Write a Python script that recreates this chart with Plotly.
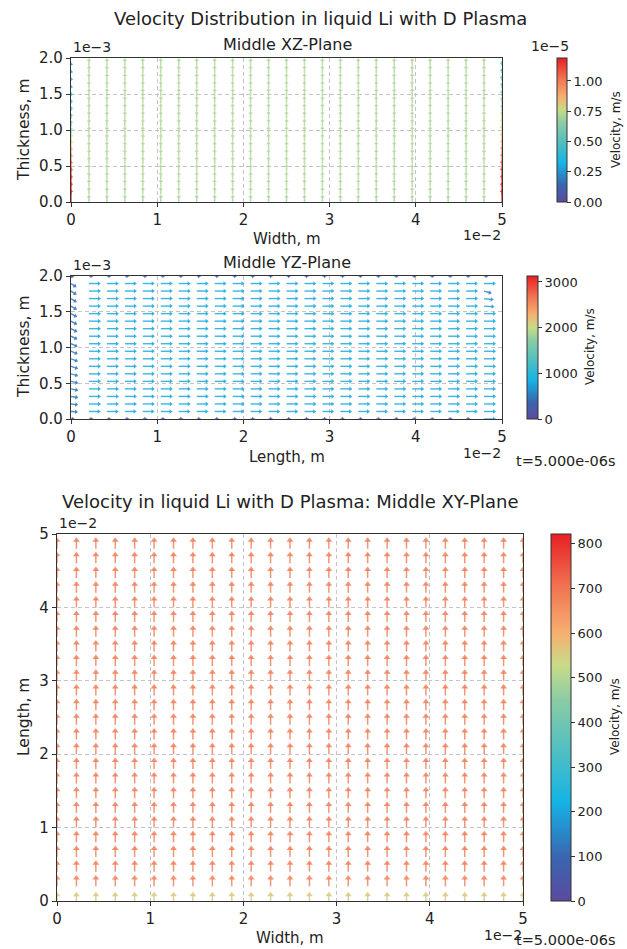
import numpy as np
import plotly.graph_objects as go
from plotly.colors import sample_colorscale

# ---------------- data ----------------
# grid columns (in 1e-2 m) and rows
col_pos_cm = [0.0, 0.2083, 0.4167, 0.625, 0.8333, 1.0417, 1.25, 1.4583, 1.6667, 1.875,
              2.0833, 2.2917, 2.5, 2.7083, 2.9167, 3.125, 3.3333, 3.5417, 3.75, 3.9583,
              4.1667, 4.375, 4.5833, 4.7917, 5.0]
z_rows_mm = [0.0, 0.1053, 0.2105, 0.3158, 0.4211, 0.5263, 0.6316, 0.7368, 0.8421, 0.9474,
             1.0526, 1.1579, 1.2632, 1.3684, 1.4737, 1.5789, 1.6842, 1.7895, 1.8947, 2.0]
xy_rows_cm = [0.0, 0.2, 0.4, 0.6, 0.8, 1.0, 1.2, 1.4, 1.6, 1.8, 2.0, 2.2, 2.4, 2.6, 2.8,
              3.0, 3.2, 3.4, 3.6, 3.8, 4.0, 4.2, 4.4, 4.6, 4.8]

# Middle XZ-plane: vertical velocity (1e-5 m/s), per row bottom->top
xz_w_mid = [0.70, 0.71, 0.72, 0.72, 0.72, 0.72, 0.72, 0.72, 0.72, 0.72,
            0.72, 0.72, 0.72, 0.72, 0.72, 0.72, 0.72, 0.72, 0.71, 0.70]
xz_w_left = [1.19, 1.17, 1.15, 1.12, 1.05, 0.98, 0.90, 0.82, 0.74, 0.66,
             0.58, 0.52, 0.46, 0.42, 0.38, 0.35, 0.32, 0.30, 0.28, 0.26]
xz_w_right = [1.19, 1.18, 1.16, 1.13, 1.08, 1.02, 0.96, 0.90, 0.85, 0.80,
              0.76, 0.72, 0.68, 0.64, 0.60, 0.56, 0.52, 0.48, 0.44, 0.40]
xz_cmax = 1.19e-5

# Middle YZ-plane: velocity components (m/s), per row bottom->top
yz_v_mid = [300, 780, 800, 800, 800, 800, 800, 800, 800, 800,
            800, 800, 800, 800, 800, 800, 800, 800, 790, 300]
yz_v_left = [250, 470, 480, 490, 490, 490, 480, 480, 470, 460,
             450, 440, 430, 420, 410, 400, 390, 380, 370, 180]
yz_w_left = [0, -40, -60, -80, -100, -120, -140, -160, -180, -190,
             -200, -210, -220, -225, -230, -235, -240, -240, -240, -60]
yz_v_c23 = [800, 800, 800, 800, 800, 800, 800, 800, 800, 800,
            800, 800, 800, 800, 800, 700, 650, 520, 790, 300]
yz_w_c23 = [0, 0, 0, 0, 0, 0, 0, 0, 0, 0,
            0, 0, 0, 0, 0, -40, -80, -150, 0, 0]
yz_cmax = 3130

# Middle XY-plane: velocity along length (m/s), per row bottom->top
xy_v_rows = [560, 680, 690, 690, 690, 690, 690, 690, 690, 690, 690, 690, 690,
             690, 690, 690, 690, 690, 690, 690, 690, 690, 690, 690, 690]
xy_cmax = 822

CS = [[0.0, '#5b4b9e'], [0.12, '#3a66b0'], [0.27, '#14b4e6'], [0.40, '#4cbec4'],
      [0.55, '#8ccca4'], [0.64, '#c6dc88'], [0.73, '#f6b070'], [0.86, '#f07250'],
      [1.0, '#e81e24']]

W, H = 627, 949
FONT = "DejaVu Sans"


def px(x):
    return x / W


def py(y):
    return 1 - y / H


fig = go.Figure()


def add_quiver(tx, ty, u, v, k_px, ppx, ppy, cmax, xa, ya, head, lw, opacity, cbar):
    tx = np.asarray(tx, float); ty = np.asarray(ty, float)
    u = np.asarray(u, float); v = np.asarray(v, float)
    mag = np.hypot(u, v)
    keep = mag > 0
    tx, ty, u, v, mag = tx[keep], ty[keep], u[keep], v[keep], mag[keep]
    L = k_px * mag
    ang = np.arctan2(v, u)
    dx, dy = np.cos(ang), np.sin(ang)
    hl = np.minimum(head * 0.5, L * 0.5)
    hx = tx + (L - hl) * dx * ppx
    hy = ty + (L - hl) * dy * ppy
    q = np.round(np.clip(mag / cmax, 0, 1) * 60) / 60
    cols = sample_colorscale(CS, list(q))
    groups = {}
    for i, c in enumerate(cols):
        g = groups.setdefault(c, ([], []))
        g[0].extend([tx[i], hx[i], None])
        g[1].extend([ty[i], hy[i], None])
    for c, (gx, gy) in groups.items():
        fig.add_trace(go.Scatter(x=gx, y=gy, mode='lines', line=dict(color=c, width=lw),
                                 opacity=opacity, hoverinfo='skip', showlegend=False,
                                 xaxis=xa, yaxis=ya))
    fig.add_trace(go.Scatter(
        x=hx, y=hy, mode='markers', hoverinfo='skip', showlegend=False,
        xaxis=xa, yaxis=ya, opacity=opacity,
        marker=dict(symbol='triangle-up', size=head, angle=90 - np.degrees(ang),
                    color=mag, colorscale=CS, cmin=0, cmax=cmax, showscale=True,
                    colorbar=cbar, line=dict(width=0))))


cols_m = np.array(col_pos_cm) * 1e-2
zr_m = np.array(z_rows_mm) * 1e-3
xyr_m = np.array(xy_rows_cm) * 1e-2

cb_common = dict(outlinewidth=1, outlinecolor='#333', ticks='outside', ticklen=4,
                 tickcolor='#333', xpad=0, ypad=0, xanchor='left', yanchor='middle',
                 lenmode='pixels', tickfont=dict(family=FONT, size=13, color='#222'))

# ---- XZ panel ----
TX, TY, U, V = [], [], [], []
for ci, cx in enumerate(cols_m):
    prof = xz_w_left if ci == 0 else (xz_w_right if ci == len(cols_m) - 1 else xz_w_mid)
    for ri, zz in enumerate(zr_m):
        TX.append(cx); TY.append(zz); U.append(0.0); V.append(prof[ri] * 1e-5)
cb1 = dict(cb_common, len=144, thickness=10, x=px(557), y=py(130),
           tickvals=[0, 0.25e-5, 0.5e-5, 0.75e-5, 1.0e-5],
           ticktext=['0.00', '0.25', '0.50', '0.75', '1.00'])
add_quiver(TX, TY, U, V, 7.8 / 0.72e-5, 0.05 / 431, 0.002 / 144, xz_cmax, 'x', 'y',
           4, 1.6, 0.75, cb1)

# ---- YZ panel ----
TX, TY, U, V = [], [], [], []
for ci, cx in enumerate(cols_m):
    for ri, zz in enumerate(zr_m):
        if ci == 0:
            uu, vv = yz_v_left[ri], yz_w_left[ri]
        elif ci == 23:
            uu, vv = yz_v_c23[ri], yz_w_c23[ri]
        else:
            uu, vv = yz_v_mid[ri], 0.0
        TX.append(cx); TY.append(zz); U.append(uu); V.append(vv)
cb2 = dict(cb_common, len=143, thickness=11, x=px(527), y=py(347.5),
           tickvals=[0, 1000, 2000, 3000], ticktext=['0', '1000', '2000', '3000'])
add_quiver(TX, TY, U, V, 12.0 / 800, 0.05 / 431, 0.002 / 143, yz_cmax, 'x2', 'y2',
           4, 1.4, 0.85, cb2)

# ---- XY panel ----
TX, TY, U, V = [], [], [], []
for ci, cx in enumerate(cols_m):
    for ri, yy in enumerate(xyr_m):
        TX.append(cx); TY.append(yy); U.append(0.0); V.append(xy_v_rows[ri])
cb3 = dict(cb_common, len=367, thickness=20, x=px(551), y=py(717.5),
           tickvals=list(range(0, 801, 100)), ticktext=[str(t) for t in range(0, 801, 100)])
add_quiver(TX, TY, U, V, 11.5 / 690, 0.05 / 466, 0.05 / 367, xy_cmax, 'x3', 'y3',
           6, 1.5, 0.82, cb3)

# ---------------- axes ----------------
ax_common = dict(showline=True, mirror=True, linecolor='#333', linewidth=1.2,
                 ticks='outside', ticklen=4, tickcolor='#333', showgrid=True,
                 gridcolor='#c4c4c4', griddash='4px,3px', gridwidth=0.8, zeroline=False,
                 automargin=False,
                 tickfont=dict(family=FONT, size=15, color='#222'))
xt_vals = [0, 0.01, 0.02, 0.03, 0.04, 0.05]
xt_text = ['0', '1', '2', '3', '4', '5']
zt_vals = [0, 0.0005, 0.001, 0.0015, 0.002]
zt_text = ['0.0', '0.5', '1.0', '1.5', '2.0']

fig.update_layout(
    width=W, height=H, margin=dict(l=0, r=0, t=0, b=0, autoexpand=False),
    paper_bgcolor='white', plot_bgcolor='white', showlegend=False,
    xaxis=dict(ax_common, domain=[px(71), px(502)], range=[0, 0.05], anchor='y',
               tickvals=xt_vals, ticktext=xt_text),
    yaxis=dict(ax_common, domain=[py(202), py(58)], range=[0, 0.002], anchor='x',
               tickvals=zt_vals, ticktext=zt_text),
    xaxis2=dict(ax_common, domain=[px(71), px(502)], range=[0, 0.05], anchor='y2',
                tickvals=xt_vals, ticktext=xt_text),
    yaxis2=dict(ax_common, domain=[py(419), py(276)], range=[0, 0.002], anchor='x2',
                tickvals=zt_vals, ticktext=zt_text),
    xaxis3=dict(ax_common, domain=[px(57), px(523)], range=[0, 0.05], anchor='y3',
                tickvals=xt_vals, ticktext=xt_text),
    yaxis3=dict(ax_common, domain=[py(901), py(534)], range=[0, 0.05], anchor='x3',
                tickvals=xt_vals, ticktext=xt_text),
)

anns = [
    ("Velocity Distribution in liquid Li with D Plasma", 320, 19, 18, 'center', 'middle', 0),
    ("Middle XZ-Plane", 287, 45, 16, 'center', 'middle', 0),
    ("Middle YZ-Plane", 287, 263, 16, 'center', 'middle', 0),
    ("Velocity in liquid Li with D Plasma: Middle XY-Plane", 290, 501, 18, 'center', 'middle', 0),
    ("Width, m", 287, 239, 15, 'center', 'middle', 0),
    ("Length, m", 287, 457, 15, 'center', 'middle', 0),
    ("Width, m", 290, 938, 15, 'center', 'middle', 0),
    ("Thickness, m", 24, 130, 15.5, 'center', 'middle', -90),
    ("Thickness, m", 24, 347, 15.5, 'center', 'middle', -90),
    ("Length, m", 24, 717, 15.5, 'center', 'middle', -90),
    ("Velocity, m/s", 616, 130, 12, 'center', 'middle', -90),
    ("Velocity, m/s", 590, 347, 12, 'center', 'middle', -90),
    ("Velocity, m/s", 615, 717, 12, 'center', 'middle', -90),
    ("1e−3", 71, 57, 14, 'left', 'bottom', 0),
    ("1e−3", 71, 275, 14, 'left', 'bottom', 0),
    ("1e−5", 529, 56, 14, 'left', 'bottom', 0),
    ("1e−2", 57, 533, 14, 'left', 'bottom', 0),
    ("1e−2", 503, 225, 14, 'right', 'top', 0),
    ("1e−2", 503, 443, 14, 'right', 'top', 0),
    ("1e−2", 524, 925, 14, 'right', 'top', 0),
    ("t=5.000e-06s", 566, 461, 14.5, 'center', 'middle', 0),
    ("t=5.000e-06s", 566, 940, 14.5, 'center', 'middle', 0),
]
for text, x, y, size, xa, ya, rot in anns:
    fig.add_annotation(text=text, x=px(x), y=py(y), xref='paper', yref='paper',
                       xanchor=xa, yanchor=ya, showarrow=False, textangle=rot,
                       font=dict(family=FONT, size=size, color='#222'))

fig.write_html("out.html", config={'displayModeBar': False},
               post_script="document.body.style.margin='0';document.body.style.padding='0';")
